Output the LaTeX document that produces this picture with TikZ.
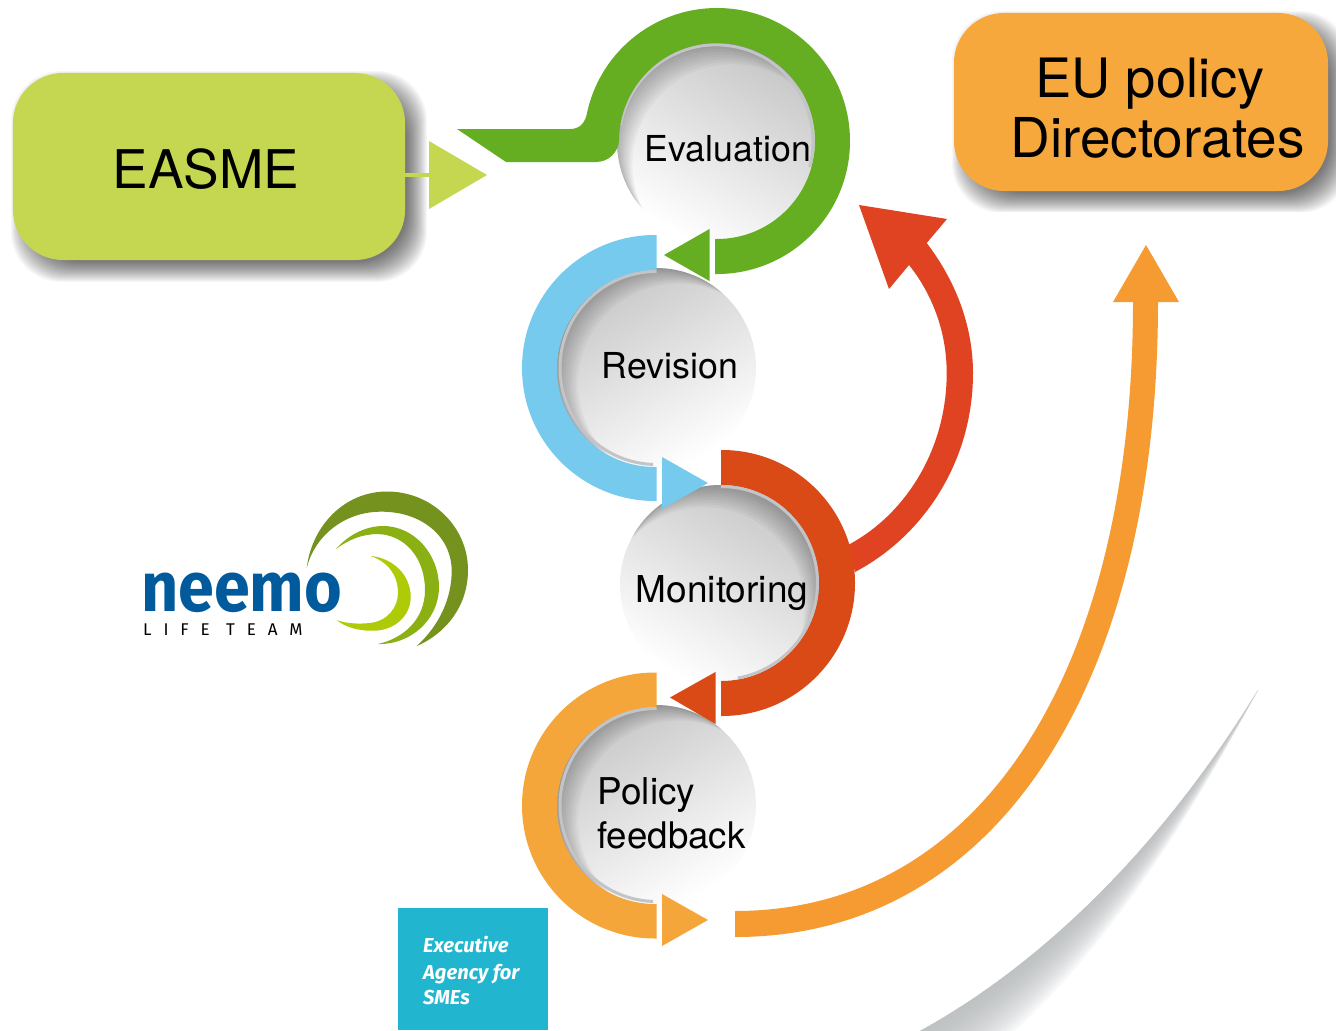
\documentclass[tikz,border=0pt]{standalone}
\usepackage{fontspec}
\setmainfont{TeX Gyre Heros}
\newfontfamily\firafont{Fira Sans}
\definecolor{easmegreen}{HTML}{C5D650}
\definecolor{eubox}{HTML}{F6A83C}
\definecolor{ringgreen}{HTML}{65AE22}
\definecolor{ringblue}{HTML}{75CAEE}
\definecolor{ringred}{HTML}{D94A17}
\definecolor{ringorange}{HTML}{F5A63B}
\definecolor{arrowred}{HTML}{E04321}
\definecolor{arroworange}{HTML}{F69A32}
\definecolor{neemoblue}{HTML}{005A9C}
\definecolor{logoa}{HTML}{76921E}
\definecolor{logob}{HTML}{8AB013}
\definecolor{logoc}{HTML}{AFCB08}
\definecolor{eacyan}{HTML}{22B5D0}
\definecolor{rimgrey}{HTML}{C3C4C8}
\definecolor{swoosh}{HTML}{BABDBF}
\tikzset{
  pillbox/.style={rectangle,rounded corners=1.5cm,inner sep=0pt,draw=none},
  orbtext/.style={font=\fontsize{30.5}{36}\selectfont,anchor=base,inner sep=0pt,text=black},
  boxtext/.style={font=\fontsize{46.3}{54}\selectfont,anchor=base,inner sep=0pt,text=black},
  smetext/.style={font=\firafont\bfseries\itshape\fontsize{17.2}{20}\selectfont,anchor=base west,inner sep=0pt,text=white}
}
% centre x, centre y, shading angle, crescent direction
\newcommand{\orb}[4]{%
  \shade[top color=black!22,bottom color=white,shading angle=#3] (#1,#2) circle (100);
  \begin{scope}
    \clip (#1,#2) circle (100);
    \foreach \k in {3,6,...,27}{
      \fill[black,opacity=.03,even odd rule] (#1,#2) circle (102) ($(#1,#2)+(#4:\k)$) circle (100);
    }
  \end{scope}
}
% x0,y0,x1,y1 of a rounded box: soft shadow
\newcommand{\softshadow}[4]{%
  \foreach \s in {12,11,...,-8}{
    \fill[black,opacity=.032,rounded corners=1.5cm]
      ({#1+10-\s},{#2+10-\s}) rectangle ({#3+10+\s},{#4+10+\s});
  }
}
\usetikzlibrary{calc}
\begin{document}
\begin{tikzpicture}[x=0.03cm,y=0.03cm,yscale=-1]
\useasboundingbox (0,0) rectangle (1336,1031);
\clip (0,0) rectangle (1336,1031);
\fill[white] (0,0) rectangle (1336,1031);

% background swoosh
\foreach \t in {0.05,0.1,...,1.0}{
  \fill[swoosh,opacity=.1]
    (1258,690) .. controls (1160,850) and (1040,965) .. (920,1031)
    -- ({920+100*\t},1031)
    .. controls ({1040+65*\t},{965-15*\t}) and ({1160+20*\t},{850-12*\t}) .. (1258,690) -- cycle;
}

% EASME box
\softshadow{13}{73}{405}{260}
\node[pillbox,fill=easmegreen,minimum width=11.76cm,minimum height=5.61cm] (easme) at (209,166.5) {};
\node[inner sep=0pt,anchor=base,font=\fontsize{45.5}{54}\selectfont] (easmetext) at (206,188) {EASME};
\coordinate (easmehead) at (429,175);
\draw[easmegreen,line width=4*0.03cm] (easme.east |- easmehead) -- (easmehead);
\fill[easmegreen] (429,141) -- (487,175) -- (429,209) -- cycle;

% EU policy box
\begin{scope}
  \clip (930,0) rectangle (1336,211);
  \softshadow{954}{13}{1328}{191}
\end{scope}
\node[pillbox,fill=eubox,minimum width=11.22cm,minimum height=5.34cm] (eu) at (1141,102) {};
\node[boxtext] (eutexta) at (1150,97) {EU policy};
\node[boxtext,font=\fontsize{46.9}{54}\selectfont] (eutextb) at (1157.5,157) {Directorates};

% orbs
\orb{717}{142}{-30}{55}
\orb{656}{368}{30}{35}
\orb{720}{585}{-30}{125}
\orb{656}{805}{30}{35}

% big red arrow
\fill[arrowred] (855,572) .. controls (925,535) and (973,460) .. (973,373)
  .. controls (973,325) and (955,280) .. (926.7,243)
  -- (947,219) -- (859,205) -- (889,289) -- (909,265)
  .. controls (933,295) and (946.7,333) .. (946.7,373)
  .. controls (946.7,450) and (905,515) .. (848,545) -- cycle;

% big orange arrow
\fill[arroworange] (735,937) .. controls (1000,937) and (1158,680) .. (1158,302)
  -- (1179,302) -- (1146,245) -- (1113,302) -- (1133,302)
  .. controls (1133,665) and (985,911) .. (735,911) -- cycle;

% evaluation ring
\draw[rimgrey,line width=0.09cm] (620.5,125) arc (-170:15:97);
\fill[ringgreen] (715,274) -- (717,274) arc (90:-169:133)
  .. controls (584,124) and (579,129) .. (570,129)
  -- (457,129) -- (506,162) -- (596,162)
  .. controls (608,162) and (618,153) .. (619,141)
  arc (-180:90:98) -- (715,239) -- cycle;
\fill[ringgreen] (709.5,229) -- (664,255) -- (709.5,281) -- cycle;

% revision ring
\fill[ringblue] (656.5,235) -- (655,235) arc (-90:-270:133) -- (656.5,501) -- (656.5,467) -- (655,467) arc (90:270:98) -- (656.5,270) -- cycle;
\draw[rimgrey,line width=0.09cm] (656.5,271.5) arc (-90:-268:96.5);
\fill[ringblue] (662,457) -- (708,483) -- (662,509) -- cycle;

% monitoring ring
\fill[ringred] (721,450) -- (722,450) arc (-90:90:133) -- (721,716) -- (721,681) arc (90:-90:98) -- cycle;
\draw[rimgrey,line width=0.09cm] (721,486.5) arc (-90:80:96.5);
\fill[ringred] (715.5,672) -- (670,697.5) -- (715.5,724) -- cycle;

% policy ring
\fill[ringorange] (656.5,672.5) -- (655,672.5) arc (-90:-270:133) -- (656.5,938.5) -- (656.5,904) -- (655,904) arc (90:270:98) -- (656.5,707) -- cycle;
\draw[rimgrey,line width=0.09cm] (656.5,708.5) arc (-90:-268:96.5);
\fill[ringorange] (662,894) -- (708,920) -- (662,946) -- cycle;

% orb labels
\node[orbtext] (evaluation) at (728,161) {Evaluation};
\node[orbtext] (revision) at (670,378) {Revision};
\node[orbtext,font=\fontsize{31.6}{36}\selectfont] (monitoring) at (722,602) {Monitoring};
\node[orbtext,anchor=base west,font=\fontsize{31.5}{36}\selectfont] (policy) at (597.5,804.5) {Policy};
\node[orbtext,anchor=base west,font=\fontsize{31.3}{36}\selectfont] (feedback) at (597,848) {feedback};

% neemo logo
\fill[logoa] (306.7,568) .. controls (312,525) and (345,491.5) .. (387,491.5)
  .. controls (432,491.5) and (468,527) .. (468,570)
  .. controls (468,605) and (447,633) .. (416.7,646)
  .. controls (440,625) and (452,597) .. (451.7,570)
  .. controls (451,535) and (420,511) .. (380,511.7)
  .. controls (345,512) and (315,535) .. (306.7,568) -- cycle;
\fill[logob] (336,549) .. controls (350,533) and (368,526) .. (383,526)
  .. controls (415,526) and (439,555) .. (439,587)
  .. controls (439,620) and (410,645) .. (378,644)
  .. controls (405,638) and (425,618) .. (425,590)
  .. controls (425,558) and (405,535) .. (378,534)
  .. controls (362,534) and (348,540) .. (336,549) -- cycle;
\fill[logoc] (370.7,556) .. controls (393,558) and (410.7,575) .. (410.7,597)
  .. controls (410.7,617) and (393,631) .. (373,630.7)
  .. controls (358,631) and (345,627) .. (336.7,620)
  .. controls (347,624) and (360,624) .. (370,623)
  .. controls (388,621) and (398,607) .. (398,593)
  .. controls (398,575) and (388,562) .. (370.7,556) -- cycle;
\node[inner sep=0pt,anchor=base west,text=neemoblue,font=\firafont\bfseries\fontsize{60}{60}\selectfont] (neemo) at (141,611.5) {\scalebox{0.92}[1]{neemo}};
\node[inner sep=0pt,anchor=base west,text=black,font=\firafont\fontsize{14.5}{16}\selectfont\addfontfeature{LetterSpace=70}] (lifeteam) at (143,635) {LIFE TEAM};

% EASME logo
\node[rectangle,fill=eacyan,inner sep=0pt,minimum width=4.5cm,minimum height=3.66cm,anchor=north west] (smebox) at (397.7,908) {};
\node[smetext] (smea) at (423,952.7) {Executive};
\node[smetext] (smeb) at (423,979) {Agency for};
\node[smetext] (smec) at (423,1004) {SMEs};
\end{tikzpicture}
\end{document}
